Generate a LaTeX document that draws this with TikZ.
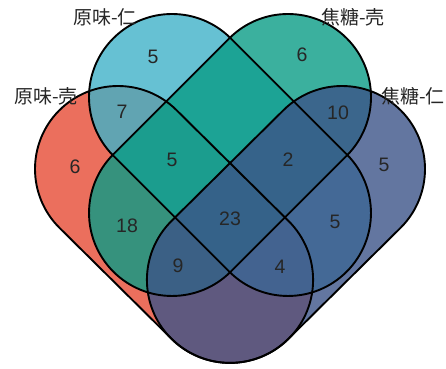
\documentclass[tikz,border=0pt]{standalone}
\usepackage{fontspec}
\setmainfont{Liberation Sans}
\newfontfamily\cjk{Noto Sans CJK SC}
\definecolor{cA}{HTML}{E64B35}
\definecolor{cB}{HTML}{40B2C8}
\definecolor{cC}{HTML}{0A9C86}
\definecolor{cD}{HTML}{3C5488}
\newcommand{\stadpath}[1]{(0,83) arc[start angle=90,end angle=270,radius=83] -- (#1,-83) arc[start angle=-90,end angle=90,radius=83] -- cycle}
\tikzset{
  setfill/.style={fill=#1, fill opacity=0.8},
  outline/.style={draw=black, line width=1.9pt, line join=round},
  count/.style={font=\fontsize{19.5}{20}\selectfont, text=black!85, inner sep=0pt},
  setlabel/.style={font=\cjk\fontsize{19}{20}\selectfont, text=black!85, inner sep=0pt}
}
\begin{document}
\begin{tikzpicture}[x=1pt,y=1pt]
\useasboundingbox (0,0) rectangle (446,368);
% fills
\begin{scope}[shift={(118,199)},rotate=-44.7]
  \fill[setfill=cA] \stadpath{157.7};
\end{scope}
\begin{scope}[shift={(172,271)},rotate=-45]
  \fill[setfill=cB] \stadpath{164};
\end{scope}
\begin{scope}[shift={(288,271)},rotate=-135]
  \fill[setfill=cC] \stadpath{164};
\end{scope}
\begin{scope}[shift={(342,199)},rotate=-135.3]
  \fill[setfill=cD] \stadpath{157.7};
\end{scope}
% outlines
\begin{scope}[shift={(118,199)},rotate=-44.7]
  \draw[outline] \stadpath{157.7};
\end{scope}
\begin{scope}[shift={(172,271)},rotate=-45]
  \draw[outline] \stadpath{164};
\end{scope}
\begin{scope}[shift={(288,271)},rotate=-135]
  \draw[outline] \stadpath{164};
\end{scope}
\begin{scope}[shift={(342,199)},rotate=-135.3]
  \draw[outline] \stadpath{157.7};
\end{scope}
% set labels
\node[setlabel] (lB) at (105,351) {原味-仁};
\node[setlabel] (lA) at (46,272) {原味-壳};
\node[setlabel] (lC) at (353,351) {焦糖-壳};
\node[setlabel] (lD) at (413,272) {焦糖-仁};
% counts
\node[count] (nB) at (153,311) {5};
\node[count] (nAB) at (122,256) {7};
\node[count] (nA) at (75,201) {6};
\node[count] (nABC) at (172,208) {5};
\node[count] (nC) at (302,313) {6};
\node[count] (nCD) at (338,255) {10};
\node[count] (nBCD) at (288,208) {2};
\node[count] (nD) at (384,203) {5};
\node[count] (nAC) at (127,142) {18};
\node[count] (nABCD) at (230,149) {23};
\node[count] (nBD) at (335,146) {5};
\node[count] (nACD) at (178,102) {9};
\node[count] (nABD) at (280,101) {4};
\end{tikzpicture}
\end{document}
